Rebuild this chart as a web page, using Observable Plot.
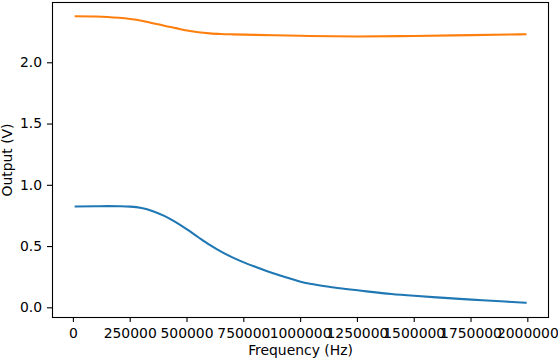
<!DOCTYPE html>
<html>
<head>
<meta charset="utf-8">
<script src="https://cdn.jsdelivr.net/npm/d3@7"></script>
<script src="https://cdn.jsdelivr.net/npm/@observablehq/plot@0.6"></script>
<style>
  html, body { margin: 0; padding: 0; background: white; }
</style>
</head>
<body>
<div id="chart"></div>
<script>
const blueFreq = [10000, 100000, 150000, 200000, 250000, 300000, 350000, 400000, 450000, 500000, 550000, 600000, 650000, 700000, 750000, 800000, 850000, 900000, 950000, 1000000, 1050000, 1100000, 1200000, 1300000, 1400000, 1500000, 1600000, 1700000, 1800000, 1900000, 1990000];
const blueOut  = [0.827, 0.829, 0.830, 0.829, 0.826, 0.815, 0.789, 0.750, 0.699, 0.640, 0.576, 0.514, 0.459, 0.412, 0.371, 0.335, 0.301, 0.270, 0.241, 0.213, 0.194, 0.178, 0.153, 0.132, 0.113, 0.098, 0.085, 0.073, 0.062, 0.051, 0.041];

const orangeFreq = [10000, 100000, 150000, 200000, 250000, 300000, 350000, 400000, 450000, 500000, 550000, 600000, 650000, 700000, 800000, 1000000, 1250000, 1500000, 1750000, 1990000];
const orangeOut  = [2.380, 2.378, 2.374, 2.367, 2.357, 2.343, 2.323, 2.302, 2.283, 2.264, 2.249, 2.240, 2.235, 2.232, 2.228, 2.220, 2.215, 2.219, 2.226, 2.233];

const xTicks = [0, 250000, 500000, 750000, 1000000, 1250000, 1500000, 1750000, 2000000];
const yTicks = [0.0, 0.5, 1.0, 1.5, 2.0];

const blue = blueFreq.map((f, i) => ({f, v: blueOut[i]}));
const orange = orangeFreq.map((f, i) => ({f, v: orangeOut[i]}));

const chart = Plot.plot({
  width: 558,
  height: 362,
  marginLeft: 52,
  marginRight: 10,
  marginTop: 2,
  marginBottom: 45,
  style: {fontFamily: "DejaVu Sans", fontSize: "13.9px", background: "white", color: "black"},
  x: {domain: [-92000, 2091000]},
  y: {domain: [-0.079, 2.492]},
  marks: [
    Plot.axisX({ticks: xTicks, tickFormat: d => String(d), tickSize: 5, tickPadding: 6, label: null, stroke: "black", strokeWidth: 1.1, fill: "black"}),
    Plot.axisY({ticks: yTicks, tickFormat: d3.format(".1f"), tickSize: 5, tickPadding: 5.5, label: null, stroke: "black", strokeWidth: 1.1, fill: "black"}),
    Plot.line(blue, {x: "f", y: "v", stroke: "#1f77b4", strokeWidth: 2.08, strokeLinecap: "square", curve: "monotone-x"}),
    Plot.line(orange, {x: "f", y: "v", stroke: "#ff7f0e", strokeWidth: 2.08, strokeLinecap: "square", curve: "monotone-x"}),
    Plot.frame({stroke: "black", strokeWidth: 1.1}),
    Plot.text(["Frequency (Hz)"], {frameAnchor: "bottom", dy: 37.5, fill: "black", fontSize: 13.9}),
    Plot.text(["Output (V)"], {frameAnchor: "left", textAnchor: "middle", dx: -44.5, rotate: -90, fill: "black", fontSize: 13.9})
  ]
});
document.getElementById("chart").appendChild(chart);
</script>
</body>
</html>
